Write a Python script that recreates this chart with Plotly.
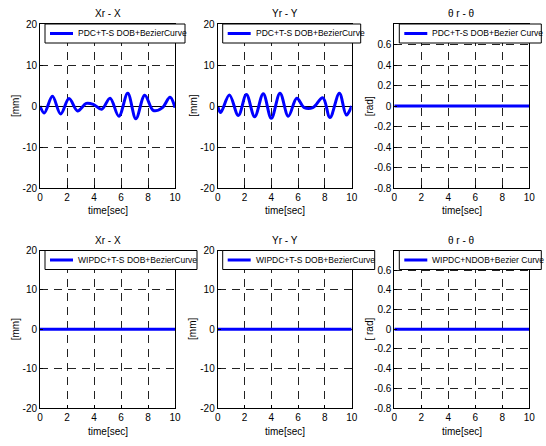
import plotly.graph_objects as go

# Tracking errors over time (sec)
time_x = [0, 0.32, 0.92, 1.53, 2.15, 2.78, 3.43, 3.98, 4.57, 5.19, 5.84, 6.5, 7.1, 7.76, 8.4, 9.05, 9.63, 10]
err_x = [0, -1.7, 2.35, -1.95, 1.8, -1.2, 0.65, 0.35, -0.8, 1.9, -2.5, 3.1, -3.1, 2.65, -1.1, -0.45, 2.15, -0.4]

time_y = [0, 0.22, 0.87, 1.54, 2.14, 2.76, 3.4, 4.0, 4.65, 5.27, 5.9, 6.46, 7.1, 7.84, 8.38, 9.08, 9.6, 10]
err_y = [0, -1.6, 2.7, -2.3, 2.8, -2.6, 3.0, -3.0, 3.1, -2.5, 1.9, -0.4, -0.4, 2.0, -2.8, 3.1, -2.2, 0]

time_flat = [0, 10]
err_zero = [0, 0]

titles = ["Xr - X", "Yr - Y", "\u03b8 r - \u03b8", "Xr - X", "Yr - Y", "\u03b8 r - \u03b8"]
ylabels = ["[mm]", "[mm]", "[rad]", "[mm]", "[mm]", "[ rad]"]
legend_names = [
    "PDC+T-S DOB+BezierCurve",
    "PDC+T-S DOB+BezierCurve",
    "PDC+T-S DOB+Bezier Curve",
    "WIPDC+T-S DOB+BezierCurve",
    "WIPDC+T-S DOB+BezierCurve",
    "WIPDC+NDOB+Bezier Curve",
]
mm_ticks = [-20, -10, 0, 10, 20]
rad_ticks = [-0.8, -0.6, -0.4, -0.2, 0, 0.2, 0.4, 0.6]
time_ticks = [0, 2, 4, 6, 8, 10]

W, H = 546, 446
FONT = "Liberation Sans, Arial, sans-serif"
BLUE = "#0000ff"

# pixel boxes of the six axes: (left, right, top, bottom)
cols = [(40, 175), (217.7, 351.7), (394.3, 529.3)]
rows = [(24, 188), (250.5, 408)]
# legend box widths in pixels
legend_widths = [140, 138, 142, 152, 152, 142]

series = [
    (time_x, err_x), (time_y, err_y), (time_flat, err_zero),
    (time_flat, err_zero), (time_flat, err_zero), (time_flat, err_zero),
]


def px(x):
    return x / W


def py(y):
    return 1 - y / H


fig = go.Figure()
layout = dict(
    width=W, height=H, margin=dict(l=0, r=0, t=0, b=0, autoexpand=False),
    paper_bgcolor="white", plot_bgcolor="white",
    font=dict(family=FONT, size=10, color="black"),
    showlegend=False, annotations=[], shapes=[],
)

for i in range(6):
    r, c = divmod(i, 3)
    left, right = cols[c]
    top, bottom = rows[r]
    n = i + 1
    xa = "xaxis" if n == 1 else f"xaxis{n}"
    ya = "yaxis" if n == 1 else f"yaxis{n}"
    xref = "x" if n == 1 else f"x{n}"
    yref = "y" if n == 1 else f"y{n}"

    t, v = series[i]
    fig.add_trace(go.Scatter(
        x=t, y=v, mode="lines", name=legend_names[i],
        line=dict(color=BLUE, width=3, shape="spline", smoothing=1.0),
        xaxis=xref, yaxis=yref,
    ))

    is_rad = c == 2
    layout[xa] = dict(
        domain=[px(left), px(right)], anchor=yref, range=[0, 10],
        tickvals=time_ticks, ticks="inside", ticklen=3, tickcolor="black",
        showline=True, linecolor="black", linewidth=1, mirror=True,
        showgrid=True, gridcolor="#222222", gridwidth=1, griddash="8px,6px",
        zeroline=False, tickfont=dict(size=10),
    )
    layout[ya] = dict(
        domain=[py(bottom), py(top)], anchor=xref,
        range=[-0.8, 0.8] if is_rad else [-20, 20],
        tickvals=rad_ticks if is_rad else mm_ticks,
        ticktext=[f"{x:g}" for x in (rad_ticks if is_rad else mm_ticks)],
        ticks="inside", ticklen=3, tickcolor="black",
        showline=True, linecolor="black", linewidth=1, mirror=True,
        showgrid=True, gridcolor="#222222", gridwidth=1, griddash="8px,6px",
        zeroline=not is_rad, zerolinecolor="black", zerolinewidth=1,
        tickfont=dict(size=10),
    )

    # legend box in the upper-left corner of each panel
    bl = left + 5
    br = bl + legend_widths[i]
    bt, bb = top, top + 19
    mid = (bt + bb) / 2
    layout["shapes"] += [
        dict(type="rect", xref="paper", yref="paper",
             x0=px(bl), x1=px(br), y0=py(bb), y1=py(bt),
             fillcolor="white", line=dict(color="black", width=1), layer="above"),
        dict(type="line", xref="paper", yref="paper",
             x0=px(bl + 5), x1=px(bl + 28), y0=py(mid), y1=py(mid),
             line=dict(color=BLUE, width=3), layer="above"),
    ]

    cx = (left + right) / 2
    layout["annotations"] += [
        dict(text=legend_names[i], x=px(bl + 31), y=py(mid), xref="paper", yref="paper",
             showarrow=False, xanchor="left", yanchor="middle",
             font=dict(size=8.5)),
        dict(text=titles[i], x=px(cx), y=py(top - 10), xref="paper", yref="paper",
             showarrow=False, xanchor="center", yanchor="middle", font=dict(size=10)),
        dict(text="time[sec]", x=px(cx), y=py(bottom + 23), xref="paper", yref="paper",
             showarrow=False, xanchor="center", yanchor="middle", font=dict(size=10)),
        dict(text=ylabels[i], x=px(left - 25), y=py((top + bottom) / 2),
             xref="paper", yref="paper", showarrow=False, textangle=-90,
             xanchor="center", yanchor="middle", font=dict(size=10)),
    ]

fig.update_layout(**layout)
fig.write_html("out.html")
